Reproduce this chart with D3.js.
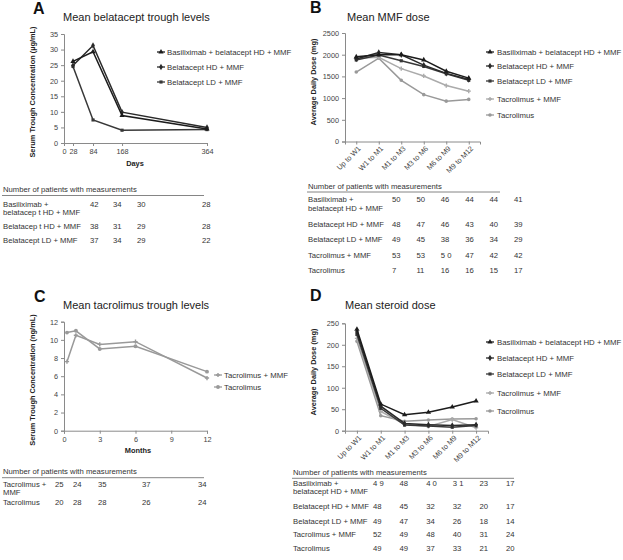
<!DOCTYPE html>
<html><head><meta charset="utf-8">
<script src="https://cdn.jsdelivr.net/npm/d3@7"></script>
<style>
body{margin:0;background:#fff;}
svg{font-family:"Liberation Sans",Arial,sans-serif;}
</style></head>
<body>
<svg id="chart" width="623" height="560"></svg>
<script>
// ---------------- DATA ----------------
// Panel A: mean belatacept trough levels (µg/mL)
const aDays = [28, 84, 168, 364];
const aTicks = [0, 28, 84, 168, 364];
const aBasil = [26.2, 29.3, 8.8, 4.5];
const aHD = [24.9, 31.3, 9.9, 5.0];
const aLD = [24.6, 7.4, 4.1, 4.3];
const aSeriesNames = ["Basiliximab + belatacept HD + MMF", "Belatacept HD + MMF", "Belatacept LD + MMF"];

// Panel B: mean MMF dose (mg)
const periods = ["Up to W1", "W1 to M1", "M1 to M3", "M3 to M6", "M6 to M9", "M9 to M12"];
const bBasil = [1950, 2000, 2000, 1880, 1620, 1460];
const bHD = [1900, 2050, 2000, 1760, 1570, 1430];
const bLD = [1880, 1990, 1860, 1730, 1560, 1410];
const bTacMMF = [1920, 1940, 1680, 1510, 1290, 1160];
const bTac = [1600, 1920, 1410, 1080, 930, 970];
const fiveNames = ["Basiliximab + belatacept HD + MMF", "Belatacept HD + MMF", "Belatacept LD + MMF", "Tacrolimus + MMF", "Tacrolimus"];

// Panel C: mean tacrolimus trough levels (ng/mL)
const cMonths = [0.25, 1, 3, 6, 12];
const cTicks = [0, 3, 6, 9, 12];
const cTacMMF = [7.6, 10.5, 9.5, 9.8, 5.8];
const cTac = [10.8, 11.0, 9.0, 9.3, 6.5];
const cSeriesNames = ["Tacrolimus + MMF", "Tacrolimus"];

// Panel D: mean steroid dose (mg)
const dBasil = [236, 62, 37, 43, 55, 69];
const dHD = [230, 57, 17, 14, 12, 14];
const dLD = [224, 52, 13, 11, 8, 12];
const dTacMMF = [215, 45, 15, 10, 26, 7];
const dTac = [208, 35, 22, 25, 27, 28];

// Patient-count tables
const tableTitle = "Number of patients with measurements";
const tALabels = [["Basiliximab +", "belatacep t HD + MMF"], ["Belatacep t HD + MMF"], ["Belatacept LD + MMF"]];
const tAValues = [["42", "34", "30", "28"], ["38", "31", "29", "28"], ["37", "34", "29", "22"]];
const tBDLabels = [["Basiliximab +", "belatacept HD + MMF"], ["Belatacept HD + MMF"], ["Belatacept LD + MMF"], ["Tacrolimus + MMF"], ["Tacrolimus"]];
const tBValues = [["50", "50", "46", "44", "44", "41"], ["48", "47", "46", "43", "40", "39"], ["49", "45", "38", "36", "34", "29"], ["53", "53", "5 0", "47", "42", "42"], ["7", "11", "16", "16", "15", "17"]];
const tCLabels = [["Tacrolimus +", "MMF"], ["Tacrolimus"]];
const tCValues = [["25", "24", "35", "37", "34"], ["20", "28", "28", "26", "24"]];
const tDValues = [["4 9", "48", "4 0", "3 1", "23", "17"], ["48", "45", "32", "32", "20", "17"], ["49", "47", "34", "26", "18", "14"], ["52", "49", "48", "40", "31", "24"], ["49", "49", "37", "33", "21", "20"]];

// ---------------- STYLE ----------------
const dark1 = "#1c1c1c", dark2 = "#2a2a2a", dark3 = "#383838", grayA = "#ababab", grayB = "#999999";
const styles = [
  {color: dark1, sym: d3.symbolTriangle, size: 12},
  {color: dark2, sym: d3.symbolDiamond, size: 12},
  {color: dark3, sym: d3.symbolSquare, size: 10},
  {color: grayA, sym: d3.symbolCross, size: 10},
  {color: grayB, sym: d3.symbolCircle, size: 10}
];
const textCol = "#333", tickCol = "#444", axisCol = "#8a8a8a";

const svg = d3.select("#chart");

function axisStyle(g) {
  g.selectAll("path.domain").attr("stroke", axisCol).attr("stroke-width", 1);
  g.selectAll(".tick line").attr("stroke", axisCol);
  g.selectAll(".tick text").attr("fill", tickCol).attr("font-size", 7.3).attr("font-family", "Liberation Sans, Arial, sans-serif");
}

function header(letter, lx, ly, title, tx, ty) {
  svg.append("text").attr("x", lx).attr("y", ly).attr("font-size", 16).attr("font-weight", "bold").attr("fill", "#111").text(letter);
  svg.append("text").attr("x", tx).attr("y", ty).attr("font-size", 11).attr("fill", "#222").text(title);
}

function yTitle(text, x, yc) {
  svg.append("text").attr("transform", `translate(${x},${yc}) rotate(-90)`).attr("text-anchor", "middle")
    .attr("font-size", 7.4).attr("font-weight", "bold").attr("fill", "#222").text(text);
}

function drawSeries(xs, ys, xVals, values, st) {
  const g = svg.append("g");
  const pts = xVals.map((x, i) => [x, values[i]]);
  g.append("path").datum(pts)
    .attr("d", d3.line().x(d => xs(d[0])).y(d => ys(d[1])))
    .attr("fill", "none").attr("stroke", st.color).attr("stroke-width", 1.5);
  g.selectAll("path.m").data(pts).join("path").attr("class", "m")
    .attr("transform", d => `translate(${xs(d[0])},${ys(d[1])})`)
    .attr("d", d3.symbol().type(st.sym).size(st.size)).attr("fill", st.color);
}

function legend(names, stylesArr, mx, tx, yRows) {
  names.forEach((n, i) => {
    const st = stylesArr[i], y = yRows[i];
    svg.append("line").attr("x1", mx - 4).attr("x2", mx + 4).attr("y1", y).attr("y2", y).attr("stroke", st.color).attr("stroke-width", 1.3);
    svg.append("path").attr("transform", `translate(${mx},${y})`).attr("d", d3.symbol().type(st.sym).size(st.size)).attr("fill", st.color);
    svg.append("text").attr("x", tx).attr("y", y + 2.8).attr("font-size", 7.8).attr("fill", textCol).text(n);
  });
}

function table(x0, lineEnd, titleY, lineY, labels, values, rowYs, colXs, gap) {
  svg.append("text").attr("x", x0).attr("y", titleY).attr("font-size", 7.7).attr("fill", textCol).text(tableTitle);
  svg.append("line").attr("x1", x0 - 1).attr("x2", lineEnd).attr("y1", lineY).attr("y2", lineY).attr("stroke", "#777").attr("stroke-width", 0.9);
  labels.forEach((lab, r) => {
    lab.forEach((l, k) => {
      svg.append("text").attr("x", x0).attr("y", rowYs[r] + k * gap).attr("font-size", 7.7).attr("fill", textCol).text(l);
    });
    values[r].forEach((v, c) => {
      svg.append("text").attr("x", colXs(c)).attr("y", rowYs[r]).attr("font-size", 7.7).attr("fill", textCol).text(v);
    });
  });
}

const fmt = d3.format("d");

// ---------------- PANEL A ----------------
{
  const L = 64, R = 207, T = 34, B = 143;
  const xs = d3.scaleLinear().domain(aTicks).range(aTicks.map((d, i) => L + (R - L) * [0, 0.063, 0.203, 0.406, 1][i]));
  const ys = d3.scaleLinear().domain([0, 35]).range([B, T]);
  header("A", 33, 14, "Mean belatacept trough levels", 63, 21);
  svg.append("g").attr("transform", `translate(${L},0)`).call(d3.axisLeft(ys).tickValues(d3.range(0, 36, 5)).tickFormat(fmt).tickSize(3).tickPadding(3)).call(axisStyle);
  svg.append("g").attr("transform", `translate(0,${B})`).call(d3.axisBottom(xs).tickValues(aTicks).tickFormat(fmt).tickSize(3).tickPadding(3)).call(axisStyle);
  yTitle("Serum Trough Concentration (µg/mL)", 35, 92);
  svg.append("text").attr("x", 135).attr("y", 166).attr("text-anchor", "middle").attr("font-size", 7.4).attr("font-weight", "bold").attr("fill", "#222").text("Days");
  [aLD, aHD, aBasil].forEach((s, i) => drawSeries(xs, ys, aDays, s, styles[2 - i]));
  legend(aSeriesNames, styles, 161, 167, [52, 67, 82]);
  const cx = [90, 113, 137, 202];
  table(3, 204, 191.5, 195.5, tALabels, tAValues, [207, 229, 243], c => cx[c], 8.4);
}

// ---------------- PANEL B ----------------
{
  const L = 345, R = 480, T = 33, B = 141.5;
  const xs = d3.scalePoint().domain(periods).range([L, R]).padding(0.5);
  const ys = d3.scaleLinear().domain([0, 2500]).range([B, T]);
  header("B", 310, 13, "Mean MMF dose", 347, 21);
  svg.append("g").attr("transform", `translate(${L},0)`).call(d3.axisLeft(ys).tickValues(d3.range(0, 2501, 500)).tickFormat(fmt).tickSize(3).tickPadding(3)).call(axisStyle);
  const gx = svg.append("g").attr("transform", `translate(0,${B})`).call(d3.axisBottom(xs).tickSize(3).tickPadding(3)).call(axisStyle);
  gx.selectAll(".tick text").attr("text-anchor", "end").attr("transform", "rotate(-45)").attr("dx", "-0.3em").attr("dy", "0.35em");
  yTitle("Average Daily Dose (mg)", 316, 82);
  [bTac, bTacMMF, bLD, bHD, bBasil].forEach((s, i) => drawSeries(xs, ys, periods, s, styles[4 - i]));
  legend(fiveNames, styles, 490, 497, [52, 66, 81, 99, 115]);
  const colB = d3.scalePoint().domain(d3.range(6)).range([392, 514]);
  table(308, 500, 189, 192, tBDLabels, tBValues, [202.3, 226.7, 242.3, 257.7, 272.7], c => colB(c), 8.4);
}

// ---------------- PANEL C ----------------
{
  const L = 64, R = 207, T = 321.7, B = 430.7;
  const xs = d3.scaleLinear().domain([0, 12]).range([L, R]);
  const ys = d3.scaleLinear().domain([0, 12]).range([B, T]);
  header("C", 34, 302, "Mean tacrolimus trough levels", 63, 309);
  svg.append("g").attr("transform", `translate(${L},0)`).call(d3.axisLeft(ys).tickValues(d3.range(0, 13, 2)).tickFormat(fmt).tickSize(3).tickPadding(3)).call(axisStyle);
  svg.append("g").attr("transform", `translate(0,${B})`).call(d3.axisBottom(xs).tickValues(cTicks).tickFormat(fmt).tickSize(3).tickPadding(3)).call(axisStyle);
  yTitle("Serum Trough Concentration (ng/mL)", 35, 380);
  svg.append("text").attr("x", 138).attr("y", 453).attr("text-anchor", "middle").attr("font-size", 7.4).attr("font-weight", "bold").attr("fill", "#222").text("Months");
  const cStyles = [{color: grayB, sym: d3.symbolCross, size: 10}, {color: grayB, sym: d3.symbolCircle, size: 12}];
  drawSeries(xs, ys, cMonths, cTacMMF, cStyles[0]);
  drawSeries(xs, ys, cMonths, cTac, cStyles[1]);
  legend(cSeriesNames, cStyles, 218, 224, [375, 387]);
  const cx = [55, 73, 98, 142, 198];
  table(3, 204, 474, 477.7, tCLabels, tCValues, [487, 505], c => cx[c], 7.6);
}

// ---------------- PANEL D ----------------
{
  const L = 345, R = 488, T = 323.3, B = 430.7;
  const xs = d3.scalePoint().domain(periods).range([L, R]).padding(0.5);
  const ys = d3.scaleLinear().domain([0, 250]).range([B, T]);
  header("D", 310, 301, "Mean steroid dose", 345, 309);
  svg.append("g").attr("transform", `translate(${L},0)`).call(d3.axisLeft(ys).tickValues(d3.range(0, 251, 50)).tickFormat(fmt).tickSize(3).tickPadding(3)).call(axisStyle);
  const gx = svg.append("g").attr("transform", `translate(0,${B})`).call(d3.axisBottom(xs).tickSize(3).tickPadding(3)).call(axisStyle);
  gx.selectAll(".tick text").attr("text-anchor", "end").attr("transform", "rotate(-45)").attr("dx", "-0.3em").attr("dy", "0.35em");
  yTitle("Average Daily Dose (mg)", 316, 372);
  [dTac, dTacMMF, dLD, dHD, dBasil].forEach((s, i) => drawSeries(xs, ys, periods, s, styles[4 - i]));
  legend(fiveNames, styles, 490, 497, [342, 358, 374, 393, 411]);
  const colD = d3.scalePoint().domain(d3.range(6)).range([373, 506]);
  table(293, 514, 475, 478.3, tBDLabels, tDValues, [485.7, 509.3, 524, 537.3, 551], c => colD(c), 8.4);
}
</script>
</body></html>
